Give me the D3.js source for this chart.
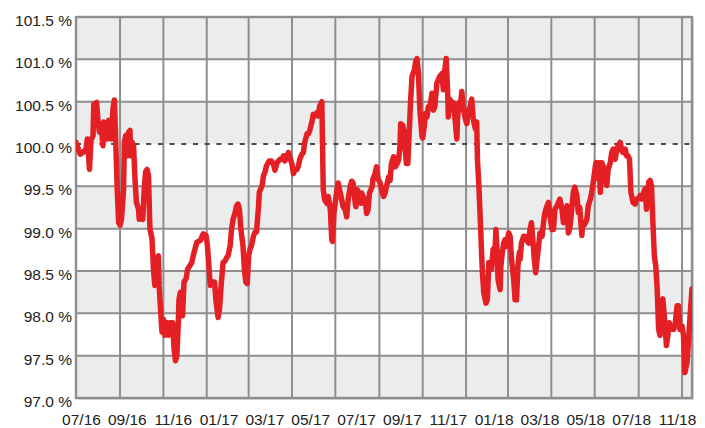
<!DOCTYPE html>
<html>
<head>
<meta charset="utf-8">
<script src="https://cdn.jsdelivr.net/npm/d3@7"></script>
<style>
  html, body { margin: 0; padding: 0; background: #ffffff; }
  svg { display: block; }
  text { font-family: "Liberation Sans", Arial, Helvetica, sans-serif; }
</style>
</head>
<body>
<svg id="chart" width="705" height="428"></svg>
<script>
// Index level (%) over time; each point is given as calendar days after seriesStart.
const seriesStart = "2016-07-01";
const seriesEnd = "2018-11-15";

const dayOffsets = [
  0,6,10,14,16,19,21,24,25,29,31,33,35,38,39,42,44,46,48,50,
  52,54,56,58,60,62,64,67,68,70,72,74,76,77,79,81,83,85,88,89,
  91,94,96,98,100,102,104,107,109,111,114,116,117,119,121,123,125,128,130,132,
  136,138,140,142,144,145,147,150,152,155,157,160,163,165,170,175,
  179,183,185,187,189,192,195,197,200,202,204,207,210,212,214,217,219,221,224,226,
  228,230,232,235,237,239,241,243,245,247,250,252,254,257,258,260,262,264,266,268,
  272,275,278,280,283,285,287,290,292,294,297,299,301,304,306,308,311,313,315,318,
  320,322,325,327,329,332,334,336,339,341,343,346,
  348,350,353,355,358,360,361,363,366,368,369,372,374,376,379,381,383,386,388,390,
  393,394,396,399,401,402,404,407,409,411,413,415,417,418,421,423,425,428,430,433,
  435,437,440,442,444,447,449,451,454,456,457,460,462,463,465,467,469,471,473,476,
  478,480,482,484,487,488,490,492,494,496,498,501,503,505,508,510,512,515,517,519,
  521,523,524,
  526,529,531,533,536,537,539,541,543,545,548,550,552,555,557,559,562,564,565,567,
  569,571,572,574,576,577,579,581,583,585,587,590,591,593,594,597,598,600,602,604,
  606,609,611,613,616,618,620,622,624,625,627,630,632,634,637,639,641,643,645,647,
  649,651,653,656,658,660,663,665,667,670,672,674,677,679,681,684,686,688,691,693,
  695,
  698,700,702,705,707,709,712,713,715,717,719,721,724,726,728,731,732,734,736,738,
  740,742,745,747,749,752,754,756,759,761,763,766,768,770,773,775,777,779,781,783,
  784,787,789,791,794,796,799,801,803,806,808,810,812,814,816,818,820,822,824,826,
  828,829,831,833,835,837,839,841,843,846,848,850,853,855,857,860,862,864,867
];

const values = [
  100.02,99.88,99.90,99.94,100.06,99.70,100.04,100.10,100.47,100.49,100.26,100.14,100.24,99.98,100.26,100.24,100.06,100.28,100.16,100.06,
  100.41,100.52,100.02,99.47,99.07,99.04,99.11,99.47,100.02,100.10,99.86,100.14,100.16,99.86,100.02,99.98,99.59,99.31,99.23,99.11,
  99.15,99.11,99.47,99.67,99.70,99.63,99.00,98.88,98.52,98.33,98.64,98.68,98.33,98.05,97.78,97.93,97.74,97.89,97.74,97.89,
  97.89,97.58,97.44,97.50,97.89,98.17,98.25,97.97,98.37,98.41,98.52,98.56,98.60,98.68,98.84,98.86,
  98.94,98.92,98.80,98.56,98.33,98.37,98.37,98.15,97.95,98.05,98.30,98.60,98.62,98.66,98.68,98.80,99.00,99.11,99.19,99.27,
  99.29,99.23,99.00,98.80,98.52,98.37,98.35,98.68,98.76,98.80,98.92,98.96,98.96,99.27,99.43,99.47,99.51,99.63,99.67,99.74,
  99.80,99.80,99.76,99.69,99.78,99.80,99.82,99.82,99.86,99.80,99.86,99.90,99.84,99.76,99.65,99.69,99.70,99.74,99.82,99.88,
  99.90,100.02,100.12,100.12,100.16,100.26,100.35,100.33,100.37,100.33,100.45,100.50,
  99.46,99.34,99.30,99.38,99.22,98.87,98.85,99.18,99.38,99.50,99.54,99.42,99.34,99.26,99.22,99.14,99.34,99.50,99.56,99.54,
  99.30,99.26,99.46,99.38,99.30,99.42,99.38,99.34,99.18,99.22,99.42,99.46,99.50,99.59,99.65,99.73,99.59,99.54,99.46,99.38,
  99.42,99.50,99.61,99.57,99.77,99.85,99.73,99.75,99.81,99.97,100.24,100.22,100.13,99.97,99.77,99.77,100.13,100.52,100.80,100.87,
  100.97,101.01,100.83,100.40,100.09,100.07,100.20,100.36,100.32,100.44,100.42,100.60,100.40,100.44,100.72,100.76,100.80,100.83,100.64,100.87,
  101.01,100.64,100.32,
  100.53,100.45,100.49,100.34,100.06,100.30,100.49,100.45,100.62,100.42,100.30,100.24,100.38,100.45,100.53,100.30,100.18,100.26,99.82,99.51,
  99.11,98.68,98.48,98.24,98.16,98.12,98.16,98.60,98.60,98.52,98.75,98.79,98.99,98.68,98.40,98.28,98.56,98.72,98.83,98.87,
  98.79,98.95,98.91,98.64,98.40,98.16,98.16,98.56,98.72,98.64,98.83,98.91,98.91,98.87,98.83,98.99,99.07,98.87,98.64,98.48,
  98.64,98.79,98.95,98.91,99.07,99.19,99.27,99.31,99.15,98.99,98.99,99.23,99.27,99.31,99.35,99.23,99.07,99.11,99.27,98.95,
  99.00,
  99.25,99.43,99.49,99.39,99.19,99.25,98.92,99.04,99.04,99.07,99.11,99.27,99.35,99.43,99.55,99.74,99.78,99.59,99.78,99.43,
  99.78,99.74,99.59,99.51,99.70,99.78,99.90,99.94,99.82,99.94,99.98,100.02,99.92,99.90,99.94,99.86,99.86,99.82,99.43,99.35,
  99.31,99.29,99.35,99.35,99.39,99.35,99.43,99.47,99.23,99.55,99.57,99.51,99.07,98.68,98.56,98.29,97.81,97.74,98.13,98.17,
  97.97,97.85,97.62,97.74,97.89,97.81,97.85,97.81,97.85,98.09,98.09,97.81,97.85,97.74,97.30,97.42,97.66,97.93,98.29
];

const yTicks = [97.0, 97.5, 98.0, 98.5, 99.0, 99.5, 100.0, 100.5, 101.0, 101.5];
const xLabels = ["07/16","09/16","11/16","01/17","03/17","05/17","07/17",
                 "09/17","11/17","01/18","03/18","05/18","07/18","11/18"];
const referenceLevel = 100.0;

// ---- layout ----
const W = 705, H = 428;
const margin = { top: 17, right: 13, bottom: 30, left: 76 };
const plotW = W - margin.left - margin.right;
const plotH = H - margin.top - margin.bottom;

const parseDay = d3.utcParse("%Y-%m-%d");
const start = parseDay(seriesStart);
const end = parseDay(seriesEnd);
const series = dayOffsets.map((d, i) => ({ date: d3.utcDay.offset(start, d), value: values[i] }));

const x = d3.scaleUtc().domain([start, end]).range([0, plotW]);
const y = d3.scaleLinear().domain([yTicks[0], yTicks[yTicks.length - 1]]).range([plotH, 0]);
const labelX = d3.scalePoint().domain(xLabels).range([5, plotW - 15]);

const svg = d3.select("#chart");
const g = svg.append("g").attr("transform", `translate(${margin.left},${margin.top})`);

const gridColor = "#8e8e8e";
const labelFont = '"Liberation Sans", Arial, sans-serif';

// soft shadow under the frame
g.append("rect")
  .attr("x", 2).attr("y", 2)
  .attr("width", plotW).attr("height", plotH)
  .attr("fill", "#dedede");

g.append("rect")
  .attr("width", plotW).attr("height", plotH)
  .attr("fill", "#ffffff");

// alternating horizontal bands
g.append("g").selectAll("rect")
  .data(d3.pairs(yTicks).filter((p, i) => i % 2 === 0))
  .join("rect")
  .attr("x", 0)
  .attr("width", plotW)
  .attr("y", d => y(d[1]))
  .attr("height", d => y(d[0]) - y(d[1]))
  .attr("fill", "#ebecec");

// vertical grid every two months
g.append("g").selectAll("line")
  .data(x.ticks(d3.utcMonth.every(2)))
  .join("line")
  .attr("x1", d => x(d)).attr("x2", d => x(d))
  .attr("y1", 0).attr("y2", plotH)
  .attr("stroke", gridColor).attr("stroke-width", 2);

// horizontal grid
g.append("g").selectAll("line")
  .data(yTicks.filter(v => v !== referenceLevel))
  .join("line")
  .attr("x1", 0).attr("x2", plotW)
  .attr("y1", d => y(d)).attr("y2", d => y(d))
  .attr("stroke", gridColor).attr("stroke-width", 2);

// reference line at 100 %
g.append("line")
  .attr("x1", 0).attr("x2", plotW)
  .attr("y1", y(referenceLevel)).attr("y2", y(referenceLevel))
  .attr("stroke", "#4a4a4a").attr("stroke-width", 2)
  .attr("stroke-dasharray", "5,6.7");

// frame
g.append("rect")
  .attr("width", plotW).attr("height", plotH)
  .attr("fill", "none")
  .attr("stroke", gridColor).attr("stroke-width", 2.4);

// the series line, clipped to the plot
svg.append("defs").append("clipPath").attr("id", "plot-clip")
  .append("rect").attr("width", plotW).attr("height", plotH);

const line = d3.line()
  .x(d => x(d.date))
  .y(d => y(d.value));

g.append("path")
  .datum(series)
  .attr("clip-path", "url(#plot-clip)")
  .attr("d", line)
  .attr("fill", "none")
  .attr("stroke", "#e52025")
  .attr("stroke-width", 5.5)
  .attr("stroke-linejoin", "round")
  .attr("stroke-linecap", "round");

// y axis labels
const yAxis = g.append("g")
  .call(d3.axisLeft(y).tickValues(yTicks).tickSize(0).tickPadding(4)
        .tickFormat(v => d3.format(".1f")(v) + " %"));
yAxis.select(".domain").remove();
yAxis.selectAll("text")
  .attr("dy", "0.55em")
  .attr("font-size", 15.5)
  .attr("fill", "#222222")
  .style("font-family", labelFont);

// x axis labels
const xAxis = g.append("g")
  .attr("transform", `translate(0,${plotH})`)
  .call(d3.axisBottom(labelX).tickSize(0).tickPadding(16));
xAxis.select(".domain").remove();
xAxis.selectAll("text")
  .attr("font-size", 15.5)
  .attr("fill", "#222222")
  .style("font-family", labelFont);
</script>
</body>
</html>
